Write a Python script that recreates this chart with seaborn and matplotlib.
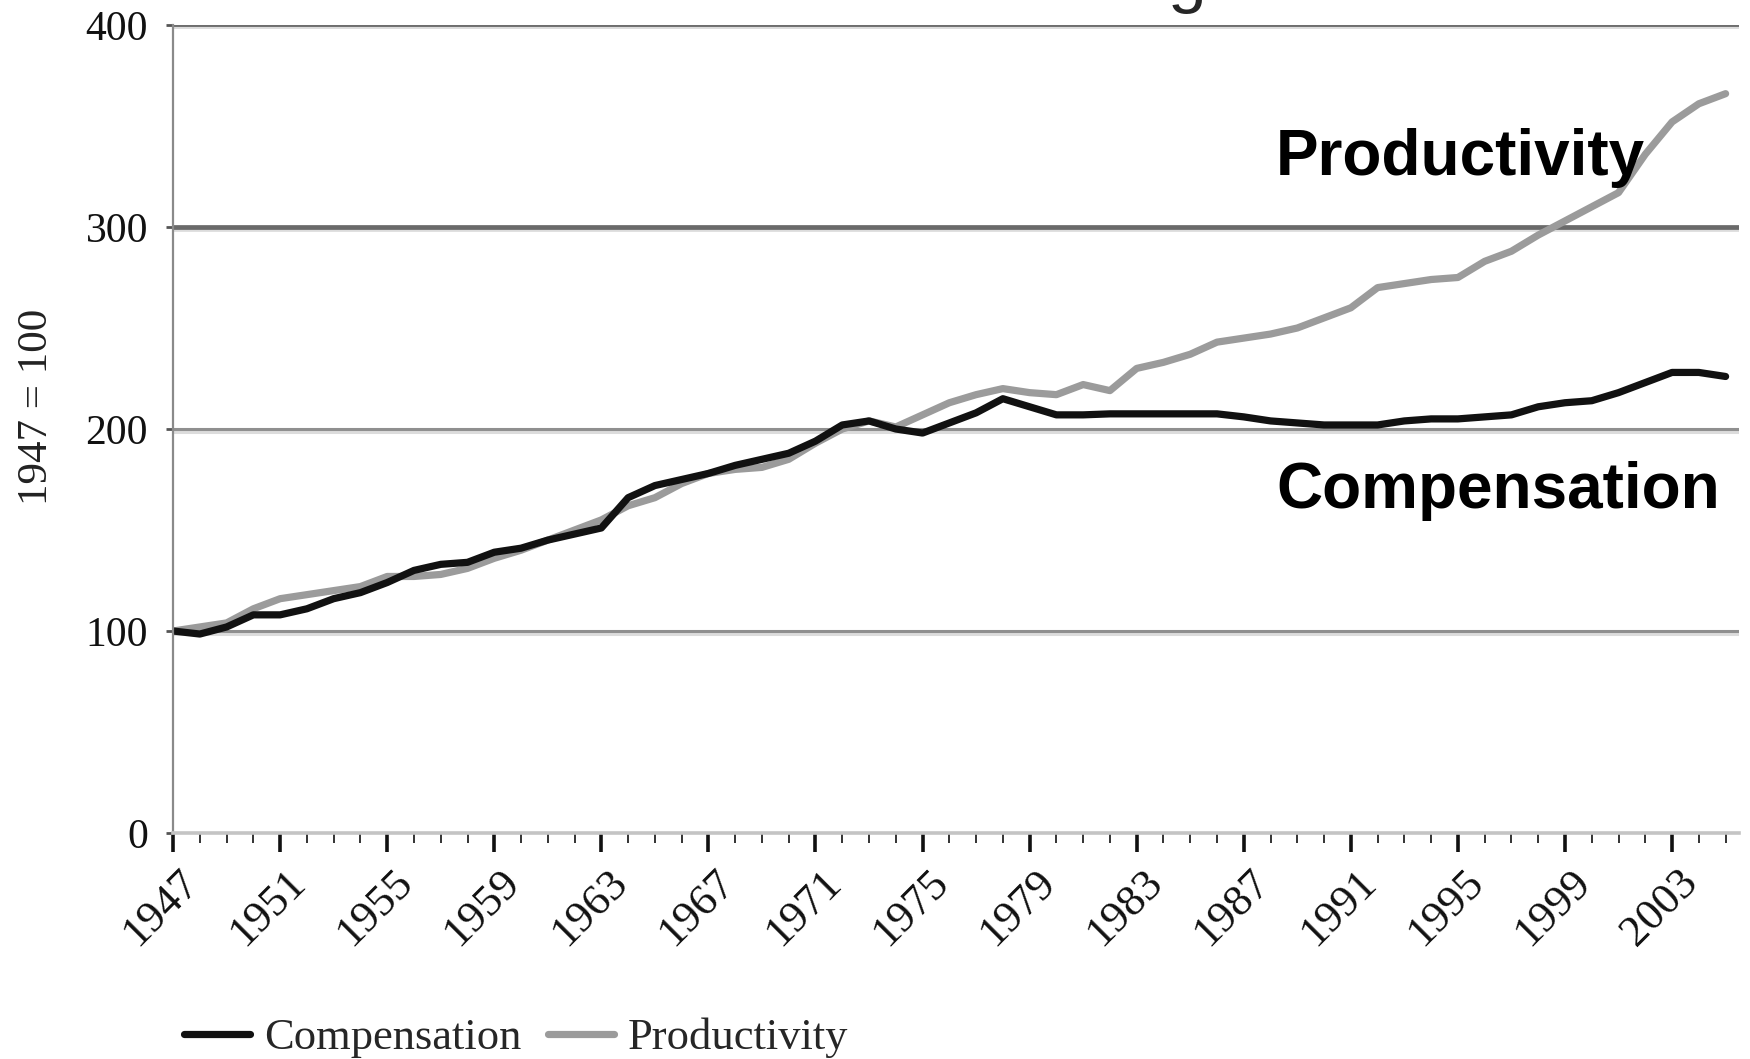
import numpy as np
import pandas as pd
import matplotlib
matplotlib.use('Agg')
import matplotlib.pyplot as plt
import matplotlib.patheffects as pe
import matplotlib.transforms as mtransforms
import seaborn as sns

# values (1947 = 100)
years = list(range(1947, 2006))
compensation = [100, 98.5, 102, 108, 108, 111, 116, 119, 124, 130,
                133, 134, 139, 141, 145, 148, 151, 166, 172, 175,
                178, 182, 185, 188, 194, 202, 204, 200, 198, 203,
                208, 215, 211, 207, 207, 207.5, 207.5, 207.5, 207.5, 207.5,
                206, 204, 203, 202, 202, 202, 204, 205, 205, 206,
                207, 211, 213, 214, 218, 223, 228, 228, 226]
productivity = [100, 102, 104, 111, 116, 118, 120, 122, 127, 127,
                128, 131, 136, 140, 145, 150, 155, 162, 166, 173,
                178, 180, 181, 185, 193, 200, 204, 201, 207, 213,
                217, 220, 218, 217, 222, 219, 230, 233, 237, 243,
                245, 247, 250, 255, 260, 270, 272, 274, 275, 283,
                288, 296, 303, 310, 317, 336, 352, 361, 366]
tick_years = list(range(1947, 2004, 4))
y_ticks = [0, 100, 200, 300, 400]

df = pd.DataFrame({'year': years,
                   'Compensation': compensation,
                   'Productivity': productivity})

sns.set_style('white')
plt.rcParams['font.family'] = ['Liberation Serif', 'DejaVu Serif']

fig = plt.figure(figsize=(17.5, 10.59), dpi=100)
ax = fig.add_axes([0.0989, 0.2134, 0.8948, 0.763])

# productivity first so compensation sits on top where they overlap
sns.lineplot(data=df, x='year', y='Productivity', color='#9b9b9b',
             linewidth=5.2, label='Productivity', ax=ax)
sns.lineplot(data=df, x='year', y='Compensation', color='#111111',
             linewidth=5.2, label='Compensation', ax=ax)
ax.get_legend().remove()

ax.set_xlim(1947, 2005.5)
ax.set_ylim(0, 400)
ax.set_xlabel('')
ax.set_ylabel('')

# gridlines with a faint shadow underneath
ax.set_yticks(y_ticks)
ax.set_axisbelow(True)
ax.yaxis.grid(True)
grid_styles = {0: None, 100: ('#8f8f8f', 2.2), 200: ('#8f8f8f', 2.2),
               300: ('#6a6a6a', 3.4), 400: ('#6e6e6e', 2.8)}
for val, gl in zip(y_ticks, ax.get_ygridlines()):
    st = grid_styles[val]
    if st is None:
        gl.set_visible(False)
        continue
    gl.set_color(st[0])
    gl.set_linewidth(st[1])
    gl.set_path_effects([pe.SimpleLineShadow(offset=(0, -1.8), shadow_color='#dcdcdc', alpha=1.0),
                         pe.Normal()])

# spines
sns.despine(ax=ax, top=True, right=True)
ax.spines['left'].set_color('#8a8a8a')
ax.spines['left'].set_linewidth(1.6)
ax.spines['bottom'].set_color('#c4c4c4')
ax.spines['bottom'].set_linewidth(2.6)

# x ticks: long majors every 4 years, short minors every year
ax.set_xticks(tick_years)
ax.set_xticklabels([str(y) for y in tick_years])
ax.set_xticks(years, minor=True)
ax.tick_params(axis='x', which='major', bottom=True, direction='out', length=14,
               width=2.6, color='#111111', labelsize=32, pad=17, labelcolor='#111111')
ax.tick_params(axis='x', which='minor', bottom=True, direction='out', length=7,
               width=1.4, color='#333333')
ax.tick_params(axis='y', left=True, direction='out', length=5, width=2,
               color='#555555', labelsize=30, pad=13, labelcolor='#111111')

offset = mtransforms.ScaledTranslation(14 / 72, 0, fig.dpi_scale_trans)
for lbl in ax.get_xticklabels():
    lbl.set_rotation(45)
    lbl.set_ha('right')
    lbl.set_va('center')
    lbl.set_rotation_mode('anchor')
    lbl.set_transform(lbl.get_transform() + offset)

fig.text(0.021, 0.6157, '1947 = 100', rotation=90, fontsize=31,
         ha='center', va='center', color='#222222')

# series annotations
sans = ['Liberation Sans', 'DejaVu Sans']
ax.text(1988.2, 325.7, 'Productivity', fontsize=46, fontweight='bold',
        family=sans, va='baseline', ha='left', color='black')
ax.text(1988.2, 161, 'Compensation', fontsize=46, fontweight='bold',
        family=sans, va='baseline', ha='left', color='black')

# remnant of the cropped title above the chart
fig.text(0.678, 1.0, 'g', fontsize=50, family=sans, ha='center', va='baseline')

handles, labels = ax.get_legend_handles_labels()
order = [labels.index('Compensation'), labels.index('Productivity')]
fig.legend([handles[i] for i in order], [labels[i] for i in order],
           loc='center left', bbox_to_anchor=(0.105, 0.02), ncol=2,
           frameon=False, fontsize=32, handlelength=1.5, handletextpad=0.3,
           columnspacing=0.6, borderpad=0, borderaxespad=0)

fig.savefig('out.png', dpi=100)
